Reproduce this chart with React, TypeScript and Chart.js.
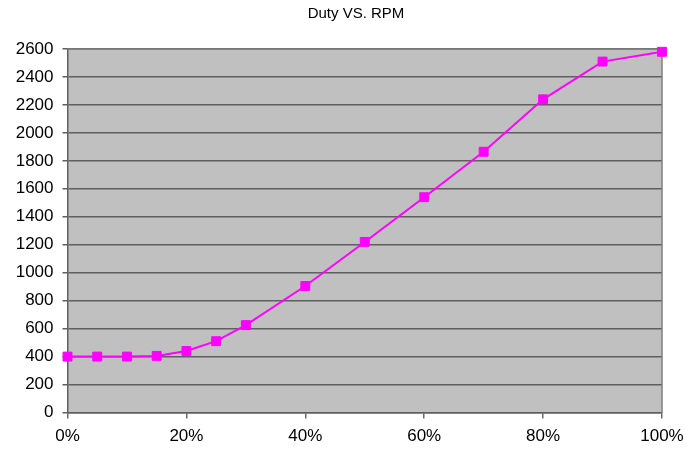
import React, { useEffect, useRef } from "react";
import { Chart, registerables } from "chart.js";

Chart.register(...registerables);

const titleText = "Duty VS. RPM";
const dutyPercent = [0, 5, 10, 15, 20, 25, 30, 40, 50, 60, 70, 80, 90, 100];
const rpmValues = [400, 400, 400, 405, 440, 510, 625, 905, 1220, 1540, 1865, 2240, 2510, 2580];
const yTickStep = 200;
const yMax = 2600;
const xTickStep = 20;

const FONT = "'Liberation Sans', Arial, sans-serif";

const plotBgPlugin = {
  id: "plotBg",
  beforeDraw(chart: any) {
    const { ctx, chartArea: a } = chart;
    ctx.save();
    ctx.fillStyle = "#ffffff";
    ctx.fillRect(0, 0, chart.width, chart.height);
    ctx.fillStyle = "#c0c0c0";
    ctx.fillRect(a.left, a.top, a.right - a.left, a.bottom - a.top);
    ctx.restore();
  },
  beforeDatasetsDraw(chart: any) {
    const { ctx, chartArea: a } = chart;
    ctx.save();
    ctx.strokeStyle = "#808080";
    ctx.lineWidth = 1.5;
    ctx.beginPath();
    ctx.moveTo(a.left, a.top);
    ctx.lineTo(a.right, a.top);
    ctx.lineTo(a.right, a.bottom);
    ctx.stroke();
    ctx.restore();
  },
  afterDraw(chart: any) {
    const { ctx } = chart;
    ctx.save();
    ctx.fillStyle = "#000000";
    ctx.font = `15px ${FONT}`;
    ctx.textAlign = "center";
    ctx.textBaseline = "middle";
    ctx.fillText(titleText, 356, 14);
    ctx.restore();
  },
};

export default function App() {
  const canvasRef = useRef<HTMLCanvasElement | null>(null);

  useEffect(() => {
    if (!canvasRef.current) return;
    const chart = new Chart(canvasRef.current, {
      type: "line",
      data: {
        datasets: [
          {
            label: "RPM",
            data: dutyPercent.map((d, i) => ({ x: d, y: rpmValues[i] })),
            borderColor: "#ff00ff",
            backgroundColor: "#ff00ff",
            borderWidth: 2,
            pointStyle: "rect",
            pointRadius: 6.3,
            pointBorderWidth: 1,
            pointBorderColor: "#ff00ff",
            pointBackgroundColor: "#ff00ff",
            tension: 0,
            clip: false as any,
          },
        ],
      },
      options: {
        animation: false,
        responsive: false,
        maintainAspectRatio: false,
        layout: { padding: { top: 49, right: 38, bottom: 0, left: 0 } },
        plugins: {
          legend: { display: false },
          title: { display: false },
          tooltip: { enabled: false },
        },
        scales: {
          x: {
            type: "linear",
            min: 0,
            max: 100,
            afterFit(scale: any) {
              scale.height = 42.5;
            },
            ticks: {
              stepSize: xTickStep,
              callback: (v: any) => `${v}%`,
              color: "#000000",
              font: { family: FONT, size: 17 },
              padding: 8,
              maxRotation: 0,
            },
            grid: {
              drawOnChartArea: false,
              drawTicks: true,
              tickLength: 6,
              color: "#6a6a6a",
              lineWidth: 1.5,
            },
            border: { display: true, color: "#5f5f5f", width: 1.5 },
          },
          y: {
            min: 0,
            max: yMax,
            afterFit(scale: any) {
              scale.width = 67.5;
            },
            ticks: {
              stepSize: yTickStep,
              callback: (v: any) => String(v),
              color: "#000000",
              font: { family: FONT, size: 17 },
              padding: 9,
            },
            grid: {
              color: "#5f5f5f",
              lineWidth: 1.5,
              drawTicks: true,
              tickLength: 5,
            },
            border: { display: true, color: "#5f5f5f", width: 1.5 },
          },
        },
      },
      plugins: [plotBgPlugin],
    });
    return () => chart.destroy();
  }, []);

  return (
    <div style={{ position: "absolute", left: 0, top: 0, width: 700, height: 455, background: "#fff" }}>
      <canvas ref={canvasRef} width={700} height={455} style={{ display: "block" }} />
    </div>
  );
}
